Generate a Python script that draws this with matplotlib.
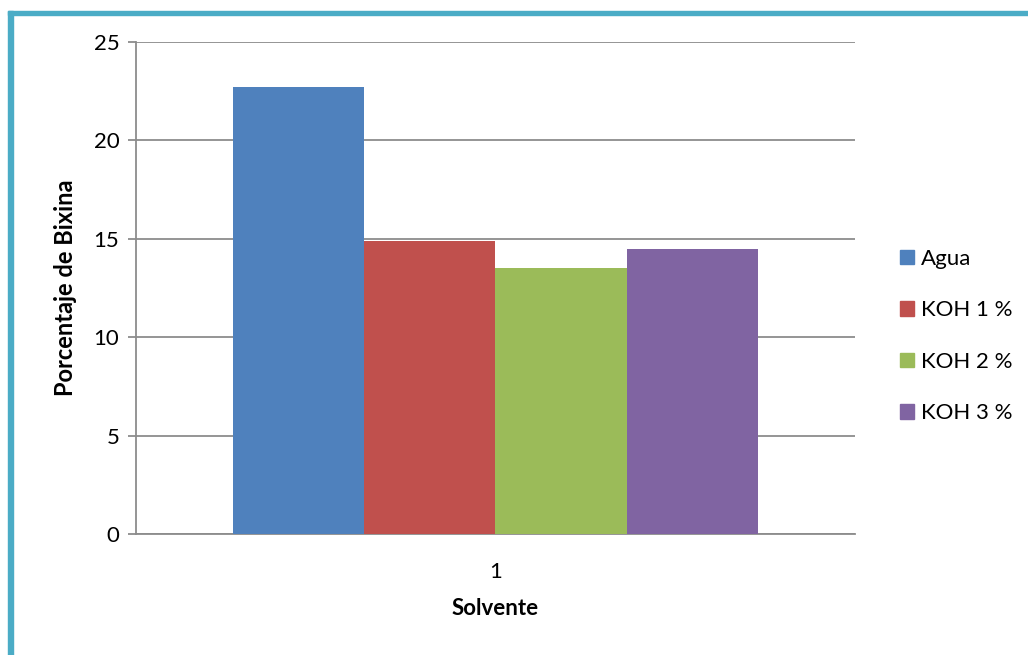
import matplotlib
matplotlib.use("Agg")
import matplotlib.pyplot as plt
from matplotlib.patches import Rectangle, Patch
import numpy as np

plt.rcParams['font.family'] = ['Lato', 'DejaVu Sans']

categories = ["1"]
series_names = ["Agua", "KOH 1 %", "KOH 2 %", "KOH 3 %"]
series_values = [22.71, 14.89, 13.52, 14.48]
series_colors = ["#4F81BD", "#C0504D", "#9BBB59", "#8064A2"]
y_ticks = [0, 5, 10, 15, 20, 25]

fig = plt.figure(figsize=(10.28, 6.55), dpi=100)
ax = fig.add_axes([136/1028, 1-534/655, (855-136)/1028, (534-42)/655])

n = len(series_names)
bar_w = 0.1825
x0 = np.arange(len(categories))
for i, (name, val, col) in enumerate(zip(series_names, series_values, series_colors)):
    offset = (i - (n - 1) / 2) * bar_w
    ax.bar(x0 + offset, [val], width=bar_w, color=col, label=name, zorder=3)

ax.set_xlim(-0.5, 0.5)
ax.set_ylim(0, 25)
ax.set_yticks(y_ticks)
ax.set_xticks(x0)
ax.set_xticklabels(categories)
ax.grid(axis='y', color='#8c8c8c', linewidth=1.3, zorder=0)
for s in ['top', 'right']:
    ax.spines[s].set_visible(False)
ax.spines['left'].set_color('#8c8c8c')
ax.spines['bottom'].set_color('#8c8c8c')
ax.spines['left'].set_linewidth(1.3)
ax.spines['bottom'].set_linewidth(1.3)
ax.tick_params(axis='y', length=6, color='#8c8c8c', width=1.3, labelsize=16, pad=6)
ax.tick_params(axis='x', length=0, labelsize=16, pad=20)
ax.set_ylabel("Porcentaje de Bixina", fontsize=17, fontweight='bold', labelpad=12)
ax.set_xlabel("Solvente", fontsize=16, fontweight='bold', labelpad=12)

handles = [Patch(color=c, label=l) for c, l in zip(series_colors, series_names)]
fig.legend(handles=handles, loc='center left', bbox_to_anchor=(889/1028, 1-336/655),
           frameon=False, fontsize=16, handlelength=0.62, handleheight=0.62,
           handletextpad=0.3, labelspacing=1.42, borderpad=0)

# chart frame (top and left edges)
fig.patches.append(Rectangle((8/1028, 0), 5/1028, (655-11)/655, transform=fig.transFigure,
                             color='#4BACC6', zorder=10))
fig.patches.append(Rectangle((8/1028, 1-15/655), 1, 4/655, transform=fig.transFigure,
                             color='#4BACC6', zorder=10))

fig.savefig("out.png", dpi=100)
